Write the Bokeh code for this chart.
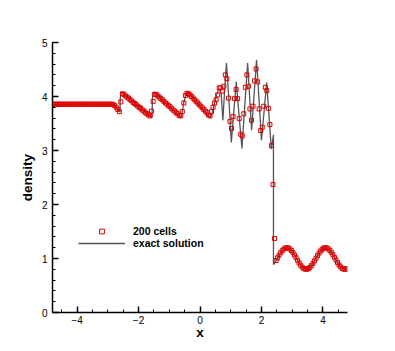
from bokeh.plotting import figure
from bokeh.models import Range1d, FixedTicker, Legend, LegendItem
from bokeh.embed import file_html
from bokeh.resources import INLINE

# ---------------- data ----------------
# numerical solution: 200 cells on [-5, 5]; visible cells 4..195
n_cells = 200
domain = (-5.0, 5.0)
dx = (domain[1] - domain[0]) / n_cells
cell_x = [domain[0] + dx * (i + 0.5) for i in range(4, 196)]

rho_left = [3.857] * 39
rho_teeth = [
    3.85, 3.83, 3.80, 3.76, 3.72, 3.90, 4.05, 4.04, 4.01, 3.99,
    3.97, 3.94, 3.92, 3.89, 3.87, 3.85, 3.82, 3.80, 3.78, 3.75,
    3.73, 3.70, 3.68, 3.66, 3.64, 3.73, 3.91, 4.04, 4.04, 4.01,
    3.99, 3.96, 3.94, 3.91, 3.88, 3.86, 3.83, 3.81, 3.78, 3.75,
    3.73, 3.70, 3.68, 3.65, 3.64, 3.72, 3.88, 4.02, 4.06, 4.05,
    4.03, 4.00, 3.97, 3.94, 3.91, 3.88, 3.85, 3.82, 3.79, 3.76,
    3.73, 3.70, 3.66, 3.64,
]
rho_osc = [
    3.72, 3.80, 3.88, 3.94, 4.03, 4.16, 4.16, 4.10, 4.19, 4.40,
    4.33, 3.97, 3.54, 3.41, 3.63, 3.96, 4.13, 3.96, 3.59, 3.30,
    3.27, 3.68, 4.17, 4.40, 4.19, 3.77, 3.56, 3.82, 4.29, 4.51,
    4.27, 3.77, 3.37, 3.43, 3.82, 4.17, 4.11, 3.78, 3.48, 3.09,
    2.37, 1.37,
]
rho_post = [
    0.962, 1.012, 1.061, 1.106, 1.145, 1.174, 1.193, 1.200, 1.194, 1.177,
    1.148, 1.110, 1.065, 1.016, 0.967, 0.919, 0.877, 0.841, 0.816, 0.802,
    0.801, 0.812, 0.834, 0.867, 0.908, 0.956, 1.005, 1.054, 1.100, 1.140,
    1.171, 1.192, 1.200, 1.195, 1.179, 1.151, 1.115, 1.071, 1.022, 0.972,
    0.924, 0.881, 0.844, 0.817, 0.803, 0.801, 0.811,
]
cell_rho = rho_left + rho_teeth + rho_osc + rho_post

# exact solution
exact_x = [
    -4.8, -2.85, -2.78, -2.72, -2.66, -2.605, -2.595, -2.575, -2.54,
    -1.575, -1.56, -1.545, -1.52, -1.49,
    -0.62, -0.58, -0.53, -0.47, -0.42, -0.37,
    0.31, 0.335, 0.40, 0.47, 0.54, 0.60, 0.65, 0.69, 0.745, 0.80,
    0.86, 0.94, 1.02, 1.10, 1.18, 1.27, 1.365, 1.46, 1.55, 1.615,
    1.68, 1.76, 1.84, 1.92, 2.00, 2.085, 2.17, 2.245, 2.32, 2.36,
    2.39, 2.391, 2.425,
]
exact_rho = [
    3.857, 3.857, 3.84, 3.80, 3.75, 3.71, 3.95, 4.06, 4.08,
    3.61, 3.65, 3.98, 4.07, 4.08,
    3.61, 3.70, 3.88, 4.02, 4.07, 4.07,
    3.62, 3.61, 3.70, 3.87, 4.03, 4.12, 4.14, 4.05, 3.56, 4.10,
    4.62, 3.95, 3.15, 3.72, 4.27, 3.66, 3.04, 3.85, 4.62, 4.00,
    3.38, 4.03, 4.68, 3.95, 3.19, 3.72, 4.26, 3.65, 3.03, 3.17,
    3.29, 0.885, 0.915,
]
exact_x = exact_x + cell_x[-len(rho_post):] + [4.8]
exact_rho = exact_rho + rho_post + [0.819]

x_ticks = [-4, -2, 0, 2, 4]
y_ticks = [0, 1, 2, 3, 4, 5]
x_minor = [v / 2 for v in range(-9, 10)]
y_minor = [v / 5 for v in range(0, 26)]

# ---------------- figure ----------------
FONT = "Liberation Sans"
p = figure(frame_width=295, frame_height=270,
           x_range=Range1d(-4.8, 4.8), y_range=Range1d(0, 5),
           output_backend="svg", toolbar_location=None,
           min_border_left=52, min_border_right=40,
           min_border_top=42, min_border_bottom=20)
p.outline_line_color = None
p.grid.visible = False
p.background_fill_color = "white"
p.border_fill_color = "white"

line_r = p.line(exact_x, exact_rho, line_color="#555555", line_width=1.3)
sq_r = p.scatter(cell_x, cell_rho, marker="square", size=4,
                 line_color="#e00000", line_width=1, fill_color=None)

p.xaxis.ticker = FixedTicker(ticks=x_ticks, minor_ticks=x_minor)
p.yaxis.ticker = FixedTicker(ticks=y_ticks, minor_ticks=y_minor)
for ax in (p.xaxis, p.yaxis):
    ax.axis_line_color = "black"
    ax.axis_line_width = 1.5
    ax.major_tick_line_color = "black"
    ax.major_tick_line_width = 1.5
    ax.minor_tick_line_color = "black"
    ax.minor_tick_line_width = 1
    ax.major_tick_in = 6
    ax.major_tick_out = 0
    ax.minor_tick_in = 3
    ax.minor_tick_out = 0
    ax.major_label_text_font = FONT
    ax.major_label_text_font_size = "10px"
    ax.major_label_text_color = "black"
    ax.axis_label_text_font = FONT
    ax.axis_label_text_font_style = "bold"
    ax.axis_label_text_font_size = "13.5px"
    ax.axis_label_text_color = "black"

p.xaxis.axis_label = "x"
p.yaxis.axis_label = "density"
p.xaxis.major_label_standoff = 3
p.xaxis.axis_label_standoff = -2
p.yaxis.major_label_standoff = 5
p.yaxis.axis_label_standoff = 4

legend = Legend(items=[LegendItem(label="200 cells", renderers=[sq_r]),
                       LegendItem(label="exact solution", renderers=[line_r])],
                location=(26, 63), padding=0, margin=0, spacing=0,
                glyph_width=47, glyph_height=12, label_height=12,
                label_standoff=8, border_line_color=None,
                background_fill_alpha=0,
                label_text_font=FONT, label_text_font_style="bold",
                label_text_font_size="10.5px", label_text_color="black")
p.add_layout(legend, "center")

open("out.html", "w").write(file_html(p, INLINE))
